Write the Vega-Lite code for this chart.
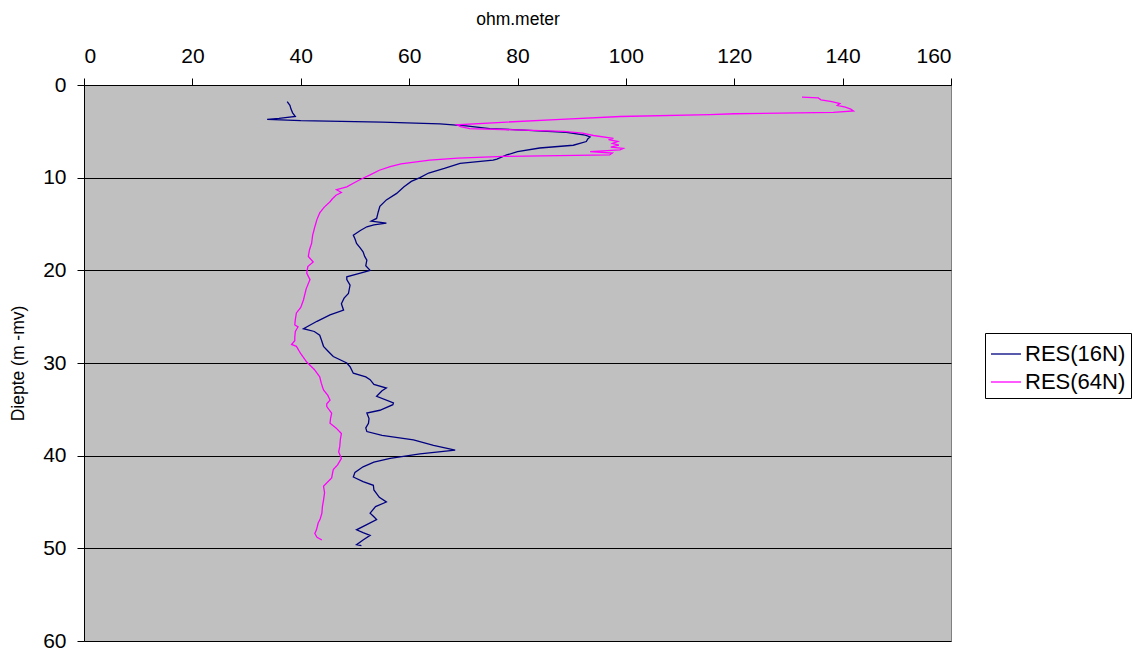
{
  "$schema": "https://vega.github.io/schema/vega-lite/v6.json",
  "width": 867,
  "height": 556,
  "autosize": "none",
  "padding": {"left": 84, "top": 85, "right": 190, "bottom": 13},
  "background": "white",
  "config": {
    "view": {"fill": "#C0C0C0", "stroke": "#808080", "strokeWidth": 1},
    "font": "Liberation Sans"
  },
  "data": {"values": [
    {"series":"RES(16N)","depth":1.8,"ohm":37.5},{"series":"RES(16N)","depth":2.2,"ohm":38.0},{"series":"RES(16N)","depth":2.6,"ohm":38.2},{"series":"RES(16N)","depth":3.0,"ohm":38.5},{"series":"RES(16N)","depth":3.4,"ohm":39.0},{"series":"RES(16N)","depth":3.6,"ohm":36.0},{"series":"RES(16N)","depth":3.7,"ohm":33.8},{"series":"RES(16N)","depth":3.85,"ohm":40},{"series":"RES(16N)","depth":4.0,"ohm":55},{"series":"RES(16N)","depth":4.2,"ohm":65.7},{"series":"RES(16N)","depth":4.4,"ohm":70.5},{"series":"RES(16N)","depth":4.7,"ohm":74.9},{"series":"RES(16N)","depth":4.9,"ohm":82},{"series":"RES(16N)","depth":5.1,"ohm":89},{"series":"RES(16N)","depth":5.4,"ohm":92.5},{"series":"RES(16N)","depth":5.6,"ohm":93.4},{"series":"RES(16N)","depth":5.8,"ohm":93.0},{"series":"RES(16N)","depth":6.1,"ohm":92.7},{"series":"RES(16N)","depth":6.5,"ohm":90.3},{"series":"RES(16N)","depth":6.8,"ohm":84.1},{"series":"RES(16N)","depth":7.2,"ohm":80},{"series":"RES(16N)","depth":7.55,"ohm":78},{"series":"RES(16N)","depth":8.0,"ohm":76.2},{"series":"RES(16N)","depth":8.1,"ohm":75.5},{"series":"RES(16N)","depth":8.45,"ohm":69.4},{"series":"RES(16N)","depth":9.0,"ohm":66.5},{"series":"RES(16N)","depth":9.5,"ohm":63.6},{"series":"RES(16N)","depth":10.0,"ohm":62},{"series":"RES(16N)","depth":10.4,"ohm":60.4},{"series":"RES(16N)","depth":11.0,"ohm":59},{"series":"RES(16N)","depth":11.7,"ohm":57.7},{"series":"RES(16N)","depth":12.4,"ohm":55.8},{"series":"RES(16N)","depth":13.1,"ohm":54.6},{"series":"RES(16N)","depth":13.7,"ohm":54.3},{"series":"RES(16N)","depth":14.4,"ohm":54.0},{"series":"RES(16N)","depth":14.7,"ohm":53},{"series":"RES(16N)","depth":14.9,"ohm":55.8},{"series":"RES(16N)","depth":15.1,"ohm":53.5},{"series":"RES(16N)","depth":15.3,"ohm":52.2},{"series":"RES(16N)","depth":15.7,"ohm":51},{"series":"RES(16N)","depth":16.2,"ohm":49.7},{"series":"RES(16N)","depth":16.6,"ohm":50.0},{"series":"RES(16N)","depth":17.1,"ohm":50.3},{"series":"RES(16N)","depth":17.6,"ohm":51.0},{"series":"RES(16N)","depth":18.0,"ohm":51.5},{"series":"RES(16N)","depth":18.5,"ohm":51.8},{"series":"RES(16N)","depth":18.9,"ohm":52.2},{"series":"RES(16N)","depth":19.5,"ohm":52.0},{"series":"RES(16N)","depth":20.0,"ohm":52.8},{"series":"RES(16N)","depth":20.3,"ohm":51},{"series":"RES(16N)","depth":20.7,"ohm":48.5},{"series":"RES(16N)","depth":21.0,"ohm":48.5},{"series":"RES(16N)","depth":21.6,"ohm":49.1},{"series":"RES(16N)","depth":22.5,"ohm":48.8},{"series":"RES(16N)","depth":23.0,"ohm":48.0},{"series":"RES(16N)","depth":23.6,"ohm":47.5},{"series":"RES(16N)","depth":24.3,"ohm":47.9},{"series":"RES(16N)","depth":24.8,"ohm":45.4},{"series":"RES(16N)","depth":25.5,"ohm":43},{"series":"RES(16N)","depth":26.3,"ohm":40.5},{"series":"RES(16N)","depth":26.6,"ohm":42.5},{"series":"RES(16N)","depth":27.0,"ohm":43.5},{"series":"RES(16N)","depth":27.5,"ohm":43.8},{"series":"RES(16N)","depth":28.2,"ohm":44.2},{"series":"RES(16N)","depth":28.7,"ohm":45.0},{"series":"RES(16N)","depth":29.3,"ohm":46.0},{"series":"RES(16N)","depth":30.0,"ohm":48.5},{"series":"RES(16N)","depth":30.4,"ohm":49.1},{"series":"RES(16N)","depth":31.1,"ohm":49.7},{"series":"RES(16N)","depth":31.5,"ohm":52.0},{"series":"RES(16N)","depth":31.8,"ohm":52.8},{"series":"RES(16N)","depth":32.3,"ohm":53.5},{"series":"RES(16N)","depth":32.7,"ohm":55.8},{"series":"RES(16N)","depth":33.0,"ohm":55.0},{"series":"RES(16N)","depth":33.6,"ohm":54.0},{"series":"RES(16N)","depth":34.3,"ohm":57.1},{"series":"RES(16N)","depth":34.5,"ohm":57.0},{"series":"RES(16N)","depth":35.1,"ohm":54.6},{"series":"RES(16N)","depth":35.4,"ohm":52.2},{"series":"RES(16N)","depth":36.0,"ohm":52.6},{"series":"RES(16N)","depth":36.5,"ohm":52.5},{"series":"RES(16N)","depth":37.0,"ohm":52.0},{"series":"RES(16N)","depth":37.4,"ohm":52.2},{"series":"RES(16N)","depth":37.8,"ohm":55},{"series":"RES(16N)","depth":38.3,"ohm":60.8},{"series":"RES(16N)","depth":38.9,"ohm":64.5},{"series":"RES(16N)","depth":39.4,"ohm":68.5},{"series":"RES(16N)","depth":39.8,"ohm":62},{"series":"RES(16N)","depth":40.3,"ohm":56.5},{"series":"RES(16N)","depth":40.7,"ohm":53.5},{"series":"RES(16N)","depth":41.2,"ohm":51.5},{"series":"RES(16N)","depth":41.8,"ohm":50.0},{"series":"RES(16N)","depth":42.3,"ohm":49.7},{"series":"RES(16N)","depth":42.8,"ohm":51.5},{"series":"RES(16N)","depth":43.2,"ohm":53.4},{"series":"RES(16N)","depth":43.7,"ohm":53.5},{"series":"RES(16N)","depth":44.1,"ohm":54.0},{"series":"RES(16N)","depth":44.5,"ohm":54.5},{"series":"RES(16N)","depth":45.0,"ohm":55.8},{"series":"RES(16N)","depth":45.5,"ohm":53.8},{"series":"RES(16N)","depth":46.2,"ohm":52.8},{"series":"RES(16N)","depth":46.6,"ohm":53.5},{"series":"RES(16N)","depth":46.9,"ohm":54.0},{"series":"RES(16N)","depth":47.5,"ohm":52.0},{"series":"RES(16N)","depth":48.0,"ohm":50.3},{"series":"RES(16N)","depth":48.3,"ohm":51.5},{"series":"RES(16N)","depth":48.6,"ohm":52.8},{"series":"RES(16N)","depth":49.1,"ohm":51.5},{"series":"RES(16N)","depth":49.6,"ohm":50.3},{"series":"RES(16N)","depth":49.7,"ohm":51.2},
    {"series":"RES(64N)","depth":1.3,"ohm":132.5},{"series":"RES(64N)","depth":1.4,"ohm":135.5},{"series":"RES(64N)","depth":1.6,"ohm":136.0},{"series":"RES(64N)","depth":1.8,"ohm":138.0},{"series":"RES(64N)","depth":2.0,"ohm":139.5},{"series":"RES(64N)","depth":2.2,"ohm":139.0},{"series":"RES(64N)","depth":2.4,"ohm":140.5},{"series":"RES(64N)","depth":2.6,"ohm":141.5},{"series":"RES(64N)","depth":2.8,"ohm":142.0},{"series":"RES(64N)","depth":2.95,"ohm":138.3},{"series":"RES(64N)","depth":3.1,"ohm":120},{"series":"RES(64N)","depth":3.2,"ohm":115.5},{"series":"RES(64N)","depth":3.4,"ohm":99},{"series":"RES(64N)","depth":3.7,"ohm":88},{"series":"RES(64N)","depth":4.0,"ohm":78},{"series":"RES(64N)","depth":4.3,"ohm":68.8},{"series":"RES(64N)","depth":4.5,"ohm":69.5},{"series":"RES(64N)","depth":4.7,"ohm":71.2},{"series":"RES(64N)","depth":5.0,"ohm":88.5},{"series":"RES(64N)","depth":5.2,"ohm":92},{"series":"RES(64N)","depth":5.45,"ohm":94.0},{"series":"RES(64N)","depth":5.75,"ohm":97.7},{"series":"RES(64N)","depth":5.9,"ohm":96.8},{"series":"RES(64N)","depth":6.1,"ohm":98.5},{"series":"RES(64N)","depth":6.3,"ohm":97.5},{"series":"RES(64N)","depth":6.5,"ohm":98.7},{"series":"RES(64N)","depth":6.7,"ohm":97.2},{"series":"RES(64N)","depth":6.85,"ohm":99.5},{"series":"RES(64N)","depth":7.0,"ohm":98.9},{"series":"RES(64N)","depth":7.2,"ohm":93.4},{"series":"RES(64N)","depth":7.35,"ohm":97.5},{"series":"RES(64N)","depth":7.55,"ohm":97},{"series":"RES(64N)","depth":7.7,"ohm":77.4},{"series":"RES(64N)","depth":7.9,"ohm":69},{"series":"RES(64N)","depth":8.1,"ohm":63.8},{"series":"RES(64N)","depth":8.5,"ohm":58.5},{"series":"RES(64N)","depth":8.8,"ohm":56.5},{"series":"RES(64N)","depth":9.2,"ohm":54.5},{"series":"RES(64N)","depth":9.7,"ohm":52.8},{"series":"RES(64N)","depth":10.2,"ohm":51.0},{"series":"RES(64N)","depth":10.6,"ohm":49.7},{"series":"RES(64N)","depth":11.0,"ohm":48.5},{"series":"RES(64N)","depth":11.3,"ohm":46.6},{"series":"RES(64N)","depth":11.6,"ohm":47.5},{"series":"RES(64N)","depth":11.9,"ohm":46.5},{"series":"RES(64N)","depth":12.3,"ohm":45.8},{"series":"RES(64N)","depth":12.6,"ohm":45.4},{"series":"RES(64N)","depth":13.2,"ohm":44.3},{"series":"RES(64N)","depth":13.8,"ohm":43.5},{"series":"RES(64N)","depth":14.5,"ohm":43.0},{"series":"RES(64N)","depth":15.3,"ohm":42.6},{"series":"RES(64N)","depth":16.2,"ohm":42.2},{"series":"RES(64N)","depth":17.1,"ohm":42.0},{"series":"RES(64N)","depth":17.8,"ohm":41.6},{"series":"RES(64N)","depth":18.5,"ohm":41.4},{"series":"RES(64N)","depth":19.1,"ohm":42.3},{"series":"RES(64N)","depth":19.6,"ohm":41.3},{"series":"RES(64N)","depth":20.3,"ohm":41.1},{"series":"RES(64N)","depth":21.0,"ohm":41.7},{"series":"RES(64N)","depth":22.0,"ohm":41.0},{"series":"RES(64N)","depth":23.2,"ohm":40.5},{"series":"RES(64N)","depth":24.0,"ohm":40.0},{"series":"RES(64N)","depth":24.6,"ohm":39.2},{"series":"RES(64N)","depth":25.3,"ohm":39.0},{"series":"RES(64N)","depth":25.9,"ohm":38.9},{"series":"RES(64N)","depth":26.1,"ohm":39.5},{"series":"RES(64N)","depth":26.6,"ohm":39.0},{"series":"RES(64N)","depth":27.2,"ohm":38.9},{"series":"RES(64N)","depth":27.6,"ohm":38.9},{"series":"RES(64N)","depth":28.0,"ohm":38.3},{"series":"RES(64N)","depth":28.2,"ohm":39.2},{"series":"RES(64N)","depth":29.0,"ohm":40.0},{"series":"RES(64N)","depth":29.9,"ohm":41.1},{"series":"RES(64N)","depth":30.7,"ohm":42.5},{"series":"RES(64N)","depth":31.5,"ohm":43.5},{"series":"RES(64N)","depth":32.2,"ohm":43.8},{"series":"RES(64N)","depth":32.9,"ohm":44.2},{"series":"RES(64N)","depth":33.5,"ohm":45.0},{"series":"RES(64N)","depth":34.0,"ohm":45.4},{"series":"RES(64N)","depth":34.4,"ohm":44.8},{"series":"RES(64N)","depth":34.7,"ohm":44.8},{"series":"RES(64N)","depth":35.4,"ohm":45.7},{"series":"RES(64N)","depth":36.0,"ohm":45.5},{"series":"RES(64N)","depth":36.5,"ohm":45.4},{"series":"RES(64N)","depth":37.0,"ohm":46.5},{"series":"RES(64N)","depth":37.6,"ohm":47.5},{"series":"RES(64N)","depth":38.3,"ohm":47.3},{"series":"RES(64N)","depth":39.0,"ohm":47.2},{"series":"RES(64N)","depth":39.6,"ohm":47.0},{"series":"RES(64N)","depth":40.3,"ohm":47.5},{"series":"RES(64N)","depth":41.0,"ohm":46.8},{"series":"RES(64N)","depth":41.5,"ohm":46.0},{"series":"RES(64N)","depth":42.4,"ohm":45.7},{"series":"RES(64N)","depth":43.3,"ohm":44.2},{"series":"RES(64N)","depth":44.0,"ohm":44.4},{"series":"RES(64N)","depth":44.8,"ohm":44.2},{"series":"RES(64N)","depth":45.5,"ohm":44.0},{"series":"RES(64N)","depth":46.2,"ohm":43.9},{"series":"RES(64N)","depth":46.8,"ohm":43.6},{"series":"RES(64N)","depth":47.3,"ohm":43.2},{"series":"RES(64N)","depth":48.0,"ohm":42.9},{"series":"RES(64N)","depth":48.4,"ohm":42.6},{"series":"RES(64N)","depth":48.8,"ohm":43.0},{"series":"RES(64N)","depth":49.1,"ohm":43.9}
  ]},
  "mark": {"type": "line", "strokeWidth": 1.3},
  "encoding": {
    "x": {
      "field": "ohm", "type": "quantitative",
      "scale": {"domain": [0, 160], "nice": false, "zero": false},
      "axis": {
        "orient": "top", "title": "ohm.meter", "values": [0,20,40,60,80,100,120,140,160],
        "grid": false, "domainColor": "black", "tickColor": "black", "tickSize": 7,
        "labelFontSize": 21, "titleFontSize": 17.5, "titleFontWeight": "normal",
        "labelPadding": 12, "titlePadding": 17, "labelColor": "black", "titleColor": "black"
      }
    },
    "y": {
      "field": "depth", "type": "quantitative",
      "scale": {"domain": [0, 60], "reverse": true, "nice": false},
      "axis": {
        "title": "Diepte (m -mv)", "values": [0,10,20,30,40,50,60],
        "grid": true, "gridColor": "black", "gridOpacity": 1, "gridWidth": 1,
        "domainColor": "black", "tickColor": "black", "tickSize": 7,
        "labelFontSize": 21, "titleFontSize": 17.5, "titleFontWeight": "normal",
        "labelPadding": 11, "titlePadding": 15, "labelColor": "black", "titleColor": "black"
      }
    },
    "color": {
      "field": "series", "type": "nominal",
      "scale": {"domain": ["RES(16N)", "RES(64N)"], "range": ["#000080", "#FF00FF"]},
      "legend": {
        "title": null, "orient": "none", "legendX": 901, "legendY": 248,
        "strokeColor": "black", "fillColor": "white", "padding": 5,
        "labelFontSize": 22, "labelColor": "black", "labelOffset": 3,
        "symbolType": "stroke", "symbolSize": 900, "symbolStrokeWidth": 1.3, "rowPadding": 1
      }
    },
    "order": {"field": "depth", "type": "quantitative"}
  }
}
